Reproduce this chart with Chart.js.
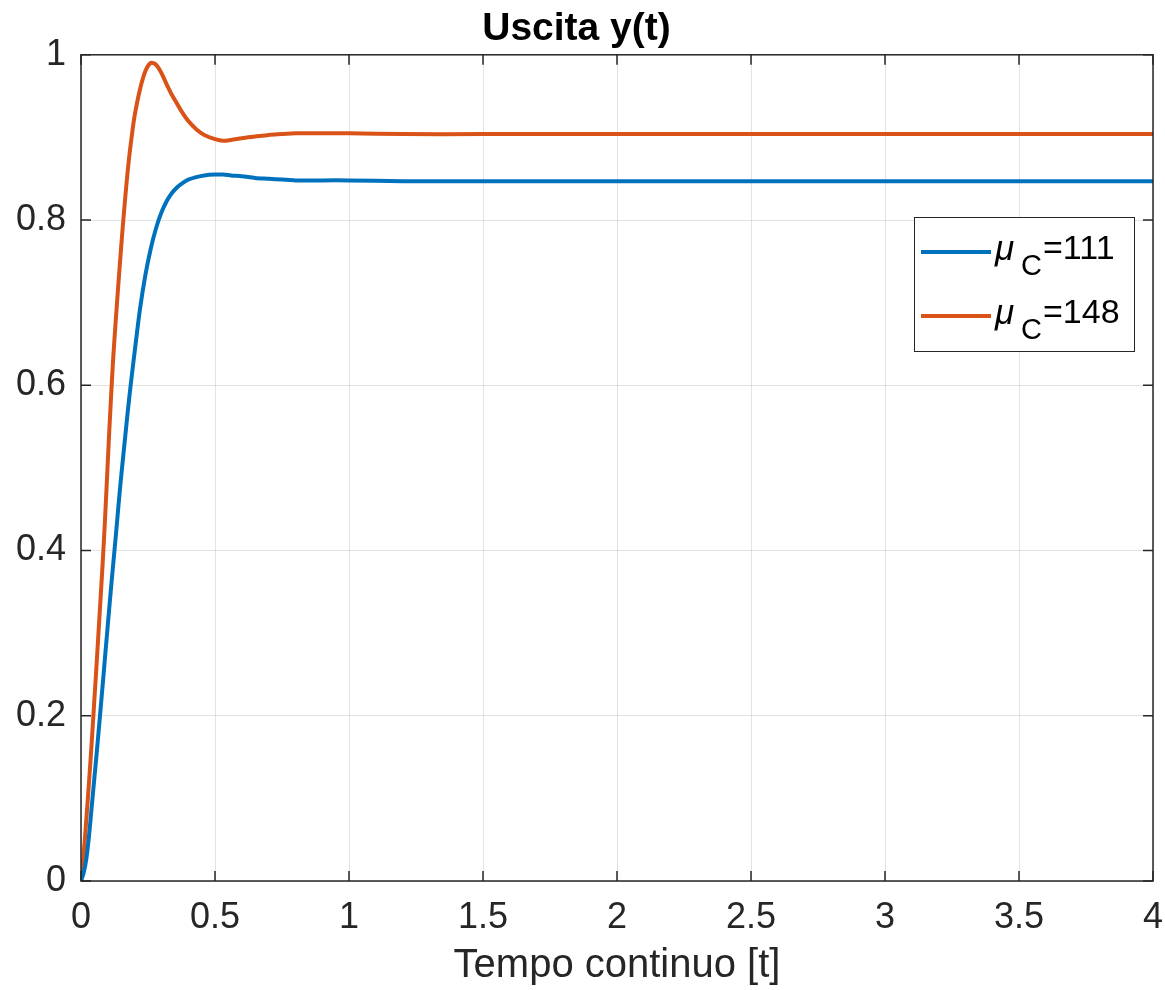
<!DOCTYPE html>
<html>
<head>
<meta charset="utf-8">
<script src="https://cdn.jsdelivr.net/npm/chart.js@4.4.1/dist/chart.umd.min.js"></script>
<style>
  html, body { margin: 0; padding: 0; background: #fff; }
  #wrap { width: 1165px; height: 990px; }
</style>
</head>
<body>
<div id="wrap"><canvas id="chart"></canvas></div>
<script>
// Dati
const tempo = [0, 0.01, 0.02, 0.03, 0.04, 0.05, 0.06, 0.07, 0.08, 0.09, 0.10, 0.11, 0.12, 0.13, 0.14, 0.15,
               0.16, 0.17, 0.18, 0.19, 0.20, 0.22, 0.24, 0.26, 0.28, 0.30, 0.32, 0.34, 0.36, 0.38, 0.40,
               0.43, 0.46, 0.50, 0.53, 0.56, 0.60, 0.65, 0.70, 0.75, 0.80, 0.90, 1.0, 1.2, 1.5, 2, 2.5, 3, 3.5, 4];
const uscita111 = [0, 0.010, 0.027, 0.055, 0.090, 0.125, 0.160, 0.197, 0.234, 0.272, 0.310, 0.347, 0.383, 0.418, 0.455, 0.490,
                   0.522, 0.554, 0.585, 0.613, 0.640, 0.692, 0.733, 0.765, 0.790, 0.809, 0.823, 0.833, 0.840, 0.845, 0.849,
                   0.852, 0.854, 0.855, 0.855, 0.854, 0.853, 0.851, 0.850, 0.849, 0.848, 0.848, 0.848, 0.847, 0.847, 0.847, 0.847, 0.847, 0.847, 0.847];
const uscita148 = [0, 0.033, 0.075, 0.120, 0.168, 0.220, 0.272, 0.326, 0.380, 0.440, 0.508, 0.573, 0.632, 0.680, 0.725, 0.768,
                   0.808, 0.845, 0.877, 0.903, 0.926, 0.958, 0.980, 0.990, 0.988, 0.978, 0.964, 0.951, 0.940, 0.929, 0.920,
                   0.910, 0.903, 0.898, 0.896, 0.897, 0.899, 0.901, 0.903, 0.904, 0.905, 0.905, 0.905, 0.904, 0.904, 0.904, 0.904, 0.904, 0.904, 0.904];
const etichette = ['111', '148'];
const colori = ['#0072BD', '#D95319'];

const axisColor = '#262626';
const fontFamily = '"Liberation Sans", Arial, Helvetica, sans-serif';

function punti(valori) {
    return tempo.map((t, i) => ({ x: t, y: valori[i] }));
}

// Riquadro e tacche interne stile MATLAB
const boxPlugin = {
    id: 'boxPlugin',
    afterDatasetsDraw(chart) {
        const { ctx, chartArea: a, scales } = chart;
        ctx.save();
        ctx.strokeStyle = axisColor;
        ctx.lineWidth = 1.5;
        ctx.strokeRect(a.left, a.top, a.right - a.left, a.bottom - a.top);
        const len = 10;
        ctx.beginPath();
        scales.x.ticks.forEach(tk => {
            const px = scales.x.getPixelForValue(tk.value);
            ctx.moveTo(px, a.bottom); ctx.lineTo(px, a.bottom - len);
            ctx.moveTo(px, a.top); ctx.lineTo(px, a.top + len);
        });
        scales.y.ticks.forEach(tk => {
            const py = scales.y.getPixelForValue(tk.value);
            ctx.moveTo(a.left, py); ctx.lineTo(a.left + len, py);
            ctx.moveTo(a.right, py); ctx.lineTo(a.right - len, py);
        });
        ctx.stroke();
        ctx.restore();
    }
};

// Legenda con pedice
const legendPlugin = {
    id: 'legendPlugin',
    afterDraw(chart) {
        const { ctx } = chart;
        const x0 = 914, y0 = 217, w = 220, h = 134;
        ctx.save();
        ctx.fillStyle = '#fff';
        ctx.fillRect(x0, y0, w, h);
        ctx.strokeStyle = axisColor;
        ctx.lineWidth = 1;
        ctx.strokeRect(x0 + 0.5, y0 + 0.5, w, h);
        const righe = [252, 316];
        chart.data.datasets.forEach((ds, i) => {
            const y = righe[i];
            ctx.strokeStyle = ds.borderColor;
            ctx.lineWidth = 4;
            ctx.beginPath();
            ctx.moveTo(x0 + 7, y);
            ctx.lineTo(x0 + 77, y);
            ctx.stroke();
            ctx.fillStyle = '#000';
            ctx.textBaseline = 'alphabetic';
            ctx.textAlign = 'left';
            ctx.font = 'italic 35px ' + fontFamily;
            ctx.fillText('\u03BC', x0 + 81, y + 8);
            ctx.font = '29px ' + fontFamily;
            ctx.fillText('C', x0 + 107, y + 23);
            ctx.font = '34px ' + fontFamily;
            ctx.fillText('=' + etichette[i], x0 + 129, y + 7);
        });
        ctx.restore();
    }
};

const formatta = v => String(Math.round(v * 10) / 10);

new Chart(document.getElementById('chart'), {
    type: 'line',
    data: {
        datasets: [
            { label: '\u03BCC=' + etichette[0], data: punti(uscita111), borderColor: colori[0] },
            { label: '\u03BCC=' + etichette[1], data: punti(uscita148), borderColor: colori[1] }
        ].map(ds => Object.assign(ds, {
            borderWidth: 4,
            pointRadius: 0,
            fill: false,
            tension: 0.3
        }))
    },
    options: {
        responsive: true,
        maintainAspectRatio: false,
        animation: false,
        layout: { padding: { left: 0, right: 12, top: 0, bottom: 0 } },
        plugins: {
            legend: { display: false },
            tooltip: { enabled: false },
            title: {
                display: true,
                text: 'Uscita y(t)',
                color: '#000',
                font: { family: fontFamily, size: 39, weight: 'bold', lineHeight: 1.2 },
                padding: { top: 6, bottom: 2 }
            }
        },
        scales: {
            x: {
                type: 'linear',
                min: 0,
                max: 4,
                ticks: {
                    stepSize: 0.5,
                    color: axisColor,
                    padding: 15,
                    maxRotation: 0,
                    callback: formatta,
                    font: { family: fontFamily, size: 36 }
                },
                grid: { color: 'rgba(38,38,38,0.13)', lineWidth: 1, drawTicks: false },
                border: { display: false },
                title: {
                    display: true,
                    text: 'Tempo continuo [t]',
                    color: axisColor,
                    font: { family: fontFamily, size: 40, lineHeight: 1.2 },
                    padding: { top: 0, bottom: 0 }
                },
                afterFit(scale) {
                    scale.height = 109;
                    scale.paddingLeft = 0;
                    scale.paddingRight = 0;
                }
            },
            y: {
                min: 0,
                max: 1,
                ticks: {
                    stepSize: 0.2,
                    color: axisColor,
                    padding: 15,
                    callback: formatta,
                    font: { family: fontFamily, size: 36 }
                },
                grid: { color: 'rgba(38,38,38,0.13)', lineWidth: 1, drawTicks: false },
                border: { display: false },
                afterFit(scale) {
                    scale.width = 81;
                    scale.paddingTop = 0;
                    scale.paddingBottom = 0;
                }
            }
        }
    },
    plugins: [boxPlugin, legendPlugin]
});
</script>
</body>
</html>
